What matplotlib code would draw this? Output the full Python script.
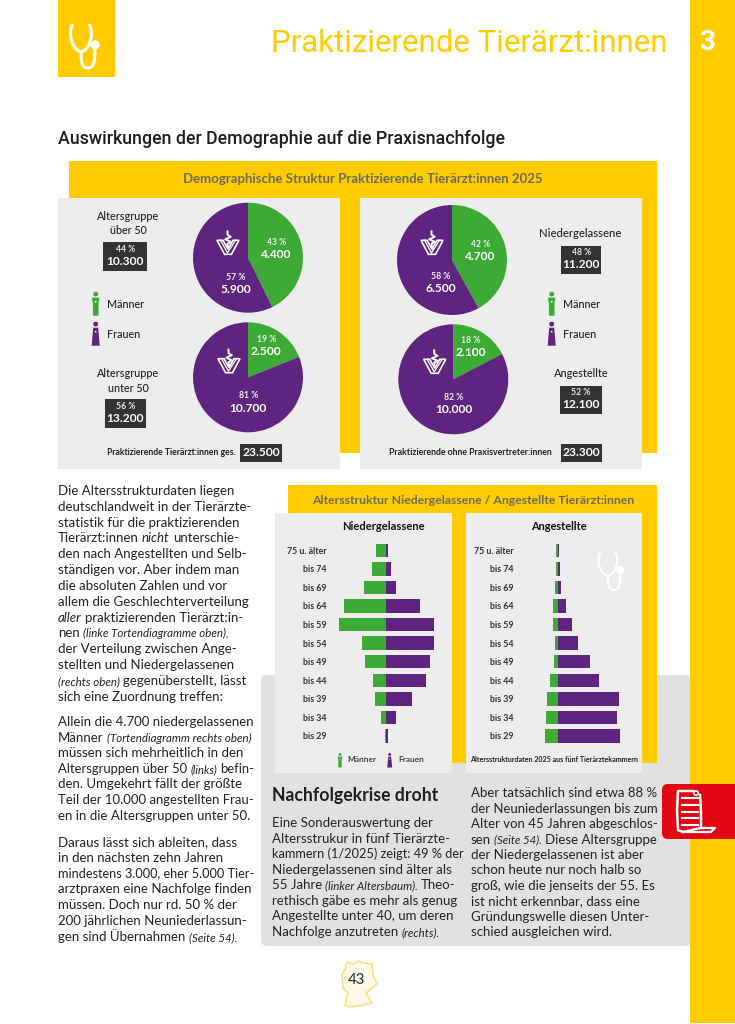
from matplotlib import pyplot as plt
from matplotlib.patches import Rectangle, FancyBboxPatch, Circle, Polygon, PathPatch
from matplotlib.path import Path

## Page ##
W = 735
H = 1024
YELLOW = "#FFCC00"
PURPLE = "#5E2480"
GREEN = "#3DAA35"
PANEL = "#EDEDED"
BOX = "#E1E1E1"
DARK = "#333333"
TITLE_GREY = "#6E6A58"
RED = "#E30613"
INK = "#222222"

HEAD = "Roboto"
LABEL = "Lato"
BODY = "Lato"

## Data ##
# pie values: men, women
PIE_OVER50 = [4400, 5900]
PIE_UNDER50 = [2500, 10700]
PIE_NIEDER = [4700, 6500]
PIE_ANGEST = [2100, 10000]
PCT_OVER50 = ["43 %", "57 %"]
PCT_UNDER50 = ["19 %", "81 %"]
PCT_NIEDER = ["42 %", "58 %"]
PCT_ANGEST = ["18 %", "82 %"]

AGE_LABELS = ["75 u. älter", "bis 74", "bis 69", "bis 64", "bis 59", "bis 54",
              "bis 49", "bis 44", "bis 39", "bis 34", "bis 29"]
# share in percent
NIEDER_MEN = [2.2, 3.1, 4.7, 9.0, 10.1, 5.2, 4.6, 2.8, 2.3, 1.0, 0.15]
NIEDER_WOMEN = [0.5, 1.0, 2.2, 7.3, 10.3, 10.4, 9.5, 8.5, 5.5, 2.2, 0.5]
ANGEST_MEN = [0.45, 0.55, 0.9, 1.35, 1.45, 0.8, 1.1, 2.25, 3.05, 3.3, 3.4]
ANGEST_WOMEN = [0.2, 0.55, 0.7, 2.15, 3.7, 5.5, 8.6, 11.0, 16.4, 15.9, 16.8]

# *...* marks italic
TEXT_LEFT_1 = ["Die Altersstrukturdaten liegen", "deutschlandweit in der Tierärzte-",
               "statistik für die praktizierenden", "Tierärzt:innen *nicht* unterschie-",
               "den nach Angestellten und Selb-", "ständigen vor. Aber indem man",
               "die absoluten Zahlen und vor", "allem die Geschlechterverteilung",
               "*aller* praktizierenden Tierärzt:in-", "nen *(linke Tortendiagramme oben),*",
               "der Verteilung zwischen Ange-", "stellten und Niedergelassenen",
               "*(rechts oben)* gegenüberstellt, lässt", "sich eine Zuordnung treffen:"]
TEXT_LEFT_2 = ["Allein die 4.700 niedergelassenen", "Männer *(Tortendiagramm rechts oben)*",
               "müssen sich mehrheitlich in den", "Altersgruppen über 50 *(links)* befin-",
               "den. Umgekehrt fällt der größte", "Teil der 10.000 angestellten Frau-",
               "en in die Altersgruppen unter 50."]
TEXT_LEFT_3 = ["Daraus lässt sich ableiten, dass", "in den nächsten zehn Jahren",
               "mindestens 3.000, eher 5.000 Tier-", "arztpraxen eine Nachfolge finden",
               "müssen. Doch nur rd. 50 % der", "200 jährlichen Neuniederlassun-",
               "gen sind Übernahmen *(Seite 54).*"]
TEXT_BOX_1 = ["Eine Sonderauswertung der", "Altersstrukur in fünf Tierärzte-",
              "kammern (1/2025) zeigt: 49 % der", "Niedergelassenen sind älter als",
              "55 Jahre *(linker Altersbaum).* Theo-", "rethisch gäbe es mehr als genug",
              "Angestellte unter 40, um deren", "Nachfolge anzutreten *(rechts).*"]
TEXT_BOX_2 = ["Aber tatsächlich sind etwa 88 %", "der Neuniederlassungen bis zum",
              "Alter von 45 Jahren abgeschlos-", "sen *(Seite 54).* Diese Altersgruppe",
              "der Niedergelassenen ist aber", "schon heute nur noch halb so",
              "groß, wie die jenseits der 55. Es", "ist nicht erkennbar, dass eine",
              "Gründungswelle diesen Unter-", "schied ausgleichen wird."]

fig = plt.figure(figsize=(W / 100, H / 100), dpi=100, facecolor="white")
renderer = fig.canvas.get_renderer()


def px_axes(x0, y0, x1, y1, zorder=1):
    return fig.add_axes([x0 / W, 1 - y1 / H, (x1 - x0) / W, (y1 - y0) / H], zorder=zorder)


bg = px_axes(0, 0, W, H, 0)
fg = px_axes(0, 0, W, H, 5)
for a in (bg, fg):
    a.set_xlim(0, W)
    a.set_ylim(H, 0)
    a.axis("off")
    a.patch.set_alpha(0)


def rect(a, x0, y0, x1, y1, color, z=1):
    a.add_patch(Rectangle((x0, y0), x1 - x0, y1 - y0, fc=color, ec="none", zorder=z))


def txt(x, y, s, px, color=INK, ha="center", weight="medium", family=LABEL, width=None):
    t = fg.text(x, y, s, fontsize=px * 0.72, color=color, ha=ha, va="center",
                fontweight=weight, family=family)
    if width:
        # fit the text to the width measured on the reference
        t.set_fontsize(t.get_fontsize() * width / t.get_window_extent(renderer).width)
    return t


def rich_line(x, y, line, px, limit):
    # sequential runs so italic pieces can sit inside a line
    parts = line.split("*")
    for attempt in range(2):
        pen = x
        placed = []
        for i, part in enumerate(parts):
            if not part.strip():
                continue
            italic = i % 2 == 1
            size = px * 0.86 if italic and part.startswith("(") else px
            t = fg.text(pen, y, part.strip(), fontsize=size * 0.72, color=INK, va="baseline",
                        family=BODY, style="italic" if italic else "normal")
            placed.append(t)
            pen = t.get_window_extent(renderer).x1 + px * 0.24
        used = pen - px * 0.24 - x
        if used <= limit or attempt == 1:
            break
        for t in placed:
            t.remove()
        px = px * limit / used


def rich_block(x, y, step, lines, px, limit):
    for i, line in enumerate(lines):
        rich_line(x, y + i * step + 4, line, px, limit)


def stethoscope(a, x0, y0, w, h, color, lw):
    verts = [(0.08, 0.0), (-0.1, 0.25), (0.15, 0.62), (0.38, 0.62),
             (0.62, 0.62), (0.85, 0.25), (0.68, 0.0)]
    codes = [Path.MOVETO] + [Path.CURVE4] * 6
    tube = [(0.38, 0.62), (0.38, 0.8), (0.38, 1.0), (0.62, 1.0), (0.86, 1.0), (0.86, 0.8), (0.86, 0.5)]
    for v, c in ((verts, codes), (tube, codes)):
        pts = [(x0 + px * w, y0 + py * h) for px, py in v]
        a.add_patch(PathPatch(Path(pts, c), fc="none", ec=color, lw=lw, capstyle="round", zorder=6))
    a.add_patch(Circle((x0 + 0.86 * w, y0 + 0.46 * h), 0.16 * w, fc=color, ec="none", zorder=6))


def person(cx, top, h, color, female):
    s = h / 24
    fg.add_patch(Circle((cx, top + 2.4 * s), 2.4 * s, fc=color, ec="none"))
    if female:
        pts = [(-2.5, 6), (2.5, 6), (4, 24), (-4, 24)]
    else:
        pts = [(-3.8, 6), (3.8, 6), (2.8, 12), (2.8, 24), (-2.8, 24), (-2.8, 12)]
    fg.add_patch(Polygon([(cx + p * s, top + q * s) for p, q in pts], fc=color, ec="none"))
    fg.add_patch(Circle((cx, top + 10 * s), 0.9 * s, fc="white", ec="none"))


def vet_logo(cx, cy):
    # shield shaped V with the staff above it
    outer = [(-11, -3), (-5, -3), (0, 6), (5, -3), (11, -3), (3.5, 11), (-3.5, 11)]
    fg.add_patch(Polygon([(cx + p, cy + q) for p, q in outer], closed=True, fc="none", ec="white", lw=1.2))
    fg.plot([cx - 7.5, cx - 0.5, cx + 7.5], [cy - 3, cy + 9.5, cy - 3], color="white", lw=0.9)
    fg.plot([cx - 0.5, cx - 0.5, cx + 2.8, cx - 2.8, cx + 2.8, cx - 0.5, cx],
            [cy - 12, cy - 8.5, cy - 6.5, cy - 4, cy - 1.5, cy + 0.5, cy + 4], color="white", lw=1.4)


def value_box(x0, y0, x1, y1, pct, val):
    rect(bg, x0, y0, x1, y1, DARK, 3)
    cx = (x0 + x1) / 2
    if pct:
        txt(cx, y0 + 6.8, pct, 8.6, "#E8E8E8", weight="bold")
        txt(cx, y0 + 19, val, 12.0, "white", weight="bold")
    else:
        txt(cx, (y0 + y1) / 2, val, 12.0, "white", weight="bold")


def fmt(v):
    return f"{v:,}".replace(",", ".")


def pie(cx, cy, values, pcts, men_xy, women_xy, logo_xy):
    a = px_axes(cx - 55, cy - 55, cx + 55, cy + 55, 2)
    a.pie(values, colors=[GREEN, PURPLE], startangle=90, counterclock=False, radius=1)
    a.set_xlim(-1, 1)
    a.set_ylim(-1, 1)
    for xy, p, v in ((men_xy, pcts[0], values[0]), (women_xy, pcts[1], values[1])):
        txt(xy[0], xy[1], p, 8.6, "#F0F0F0", weight="bold")
        txt(xy[0], xy[1] + 12.4, fmt(v), 12.0, "white", weight="bold")
    vet_logo(*logo_xy)


def pyramid(x0, x1, zero, scale, men, women, labels):
    top = 541.0
    row = 18.57
    a = px_axes(x0, top, x1, top + row * len(labels), 2)
    ys = list(range(len(labels)))
    a.barh(ys, [-m for m in men], height=0.72, color=GREEN)
    a.barh(ys, women, height=0.72, color=PURPLE)
    a.set_xlim((x0 - zero) / scale, (x1 - zero) / scale)
    a.set_ylim(len(labels) - 0.5, -0.5)
    a.set_yticks(ys, labels, fontsize=6.4, color="#333333", family=LABEL, fontweight="bold")
    a.set_xticks([])
    a.tick_params(axis="y", length=0, pad=2.2)
    for s in a.spines.values():
        s.set_visible(False)
    a.patch.set_alpha(0)


## Backgrounds ##
rect(bg, 690, 0, W, 1023, YELLOW, 1)
rect(bg, 58, 0, 115, 77, YELLOW, 1)
bg.add_patch(FancyBboxPatch((261, 675), 430, 271, boxstyle="round,pad=0,rounding_size=6",
                            fc=BOX, ec="none", zorder=0.5))
rect(bg, 69, 161, 657, 453, YELLOW, 1)
rect(bg, 58, 198, 340, 469, PANEL, 2)
rect(bg, 360, 198, 642, 469, PANEL, 2)
rect(bg, 288, 485, 657, 763, YELLOW, 1)
rect(bg, 275, 513, 452, 773, PANEL, 2)
rect(bg, 466, 513, 642, 773, PANEL, 2)

## Header ##
stethoscope(fg, 70, 25, 29, 43, "white", 2.2)
txt(668, 43, "Praktizierende Tierärzt:innen", 31, YELLOW, ha="right", weight="normal", family=HEAD, width=398)
txt(707, 43, "3", 28, "white", weight="bold", family=HEAD)
txt(58, 139, "Auswirkungen der Demographie auf die Praxisnachfolge", 18, "#1E1E1E",
    ha="left", weight="medium", family=HEAD, width=446)
txt(362.5, 179, "Demographische Struktur Praktizierende Tierärzt:innen 2025", 13, TITLE_GREY,
    weight="bold", width=363)
txt(473, 500, "Altersstruktur Niedergelassene / Angestellte Tierärzt:innen", 12, TITLE_GREY,
    weight="bold", width=324)

## Pies ##
pie(248, 257.7, PIE_OVER50, PCT_OVER50, (276.5, 242.3), (236, 277.5), (228, 243.3))
pie(248, 377.3, PIE_UNDER50, PCT_UNDER50, (266.3, 339.3), (248.3, 395.7), (229, 361.7))
pie(452, 260, PIE_NIEDER, PCT_NIEDER, (480.3, 244.3), (440.7, 276.5), (432, 243.3))
pie(453.3, 379.3, PIE_ANGEST, PCT_ANGEST, (470.3, 340.3), (453.7, 397.3), (434.7, 362.3))

## Pie labels ##
txt(128.3, 216.7, "Altersgruppe", 12, width=63)
txt(128.3, 230.7, "über 50", 12, width=37)
value_box(103.3, 242.3, 147.3, 270.7, "44 %", "10.300")
txt(128.3, 373.3, "Altersgruppe", 12, width=63)
txt(128.3, 388.3, "unter 50", 12, width=41)
value_box(104.7, 399.3, 146.3, 427.7, "56 %", "13.200")
txt(107.3, 452.3, "Praktizierende Tierärzt:innen ges.", 8.8, ha="left", weight="bold", width=128.4)
value_box(240.3, 444, 281.7, 461.7, None, "23.500")

txt(580.3, 233.3, "Niedergelassene", 12, width=82)
value_box(561.3, 246, 601.3, 274.3, "48 %", "11.200")
txt(581, 373.7, "Angestellte", 12, width=55)
value_box(560.3, 386, 601.7, 414, "52 %", "12.100")
txt(388.7, 452.3, "Praktizierende ohne Praxisvertreter:innen", 8.8, ha="left", weight="bold", width=161.3)
value_box(561, 444, 602.3, 461.7, None, "23.300")

for icon_x, text_x in ((95.7, 106.7), (551.7, 563.3)):
    person(icon_x, 291.7, 24, GREEN, False)
    txt(text_x, 304.3, "Männer", 11.5, ha="left", width=37)
    person(icon_x, 321.7, 24, PURPLE, True)
    txt(text_x, 335, "Frauen", 11.5, ha="left", width=33)

## Pyramids ##
pyramid(330, 450, 386, 4.65, NIEDER_MEN, NIEDER_WOMEN, AGE_LABELS)
pyramid(517, 640, 558, 3.71, ANGEST_MEN, ANGEST_WOMEN, AGE_LABELS)
txt(383, 527, "Niedergelassene", 12, "#111111", weight="bold", width=82)
txt(558.7, 527, "Angestellte", 12, "#111111", weight="bold", width=56)
stethoscope(fg, 598, 553, 26, 37, "white", 1.6)
person(340, 753, 14.5, GREEN, False)
txt(347.7, 759, "Männer", 8.6, ha="left", width=29)
person(389.7, 753, 14.5, PURPLE, True)
txt(398.3, 759, "Frauen", 8.6, ha="left", width=26)
txt(469.7, 759, "Altersstrukturdaten 2025 aus fünf Tierärztekammern", 7.6, ha="left", weight="bold", width=169.3)

## Body text ##
rich_block(58, 491, 15.83, TEXT_LEFT_1, 13.3, 196)
rich_block(58, 722, 15.6, TEXT_LEFT_2, 13.3, 196)
rich_block(58, 842, 15.8, TEXT_LEFT_3, 13.3, 196)
txt(271.7, 796, "Nachfolgekrise droht", 17.5, "#1E1E1E", ha="left", weight="bold", family=BODY, width=167)
rich_block(271.7, 823.3, 15.5, TEXT_BOX_1, 13.3, 192)
rich_block(471, 793.3, 15.44, TEXT_BOX_2, 13.3, 186)

## Red tab with clipboard ##
fg.add_patch(FancyBboxPatch((662, 784), 90, 55, boxstyle="round,pad=0,rounding_size=6",
                            fc=RED, ec="none"))
fg.plot([693, 678, 677, 678, 683], [791, 791, 810, 830, 832], color="white", lw=1.8)
fg.plot([700, 701, 701], [795, 812, 828], color="white", lw=1.8)
for ly in (798, 805, 812, 818, 825):
    fg.plot([682, 698], [ly, ly], color="white", lw=1.5)
fg.plot([683, 700, 715, 711, 684], [832, 828, 828, 832, 832], color="white", lw=1.6)
fg.add_patch(Circle((696, 793), 2.2, fc=RED, ec="white", lw=1.2))

## Page number ##
germany = [(347, 962), (353, 964), (358, 961), (364, 963), (372, 964), (373, 975), (377, 984), (370, 990),
           (366, 993), (372, 1003), (364, 1005), (350, 1007), (345, 1005), (348, 993),
           (343, 988), (342, 974), (345, 970)]
bg.add_patch(Polygon(germany, closed=True, fc="#FFF9E8", ec="#FBE08A", lw=1.2, zorder=1))
txt(357, 980.5, "43", 15, "#333333", family=BODY)

fig.savefig("out.png", dpi=100, facecolor="white")
